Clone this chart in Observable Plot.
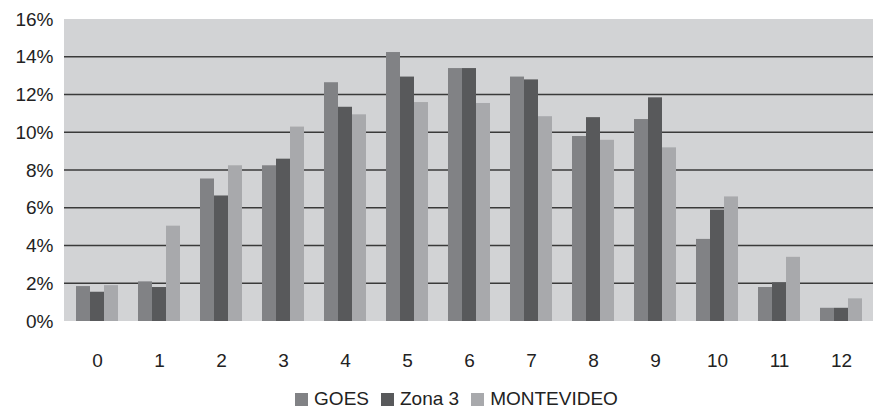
<!DOCTYPE html>
<html>
<head>
<meta charset="utf-8">
<script src="https://cdn.jsdelivr.net/npm/d3@7"></script>
<script src="https://cdn.jsdelivr.net/npm/@observablehq/plot@0.6"></script>
<style>
  html, body { margin: 0; padding: 0; background: #fff; }
  body { width: 878px; height: 409px; overflow: hidden; font-family: "Liberation Sans", Arial, sans-serif; }
  #chart svg { display: block; }
  #legend { display: flex; justify-content: center; align-items: center; height: 28px; padding-left: 35px; font-size: 19px; color: #222; }
  #legend .item { display: flex; align-items: center; margin: 0 6px; }
  #legend .sw { width: 13px; height: 13px; margin-right: 6px; display: inline-block; }
</style>
</head>
<body>
<div id="chart"></div>
<div id="legend"></div>
<script>
const categories = ["0","1","2","3","4","5","6","7","8","9","10","11","12"];
const series = ["GOES", "Zona 3", "MONTEVIDEO"];
const goes       = [1.85, 2.1, 7.55, 8.25, 12.65, 14.25, 13.4, 12.95, 9.8, 10.7, 4.35, 1.8, 0.7];
const zona3      = [1.55, 1.8, 6.65, 8.6, 11.35, 12.95, 13.4, 12.8, 10.8, 11.85, 5.9, 2.05, 0.7];
const montevideo = [1.9, 5.05, 8.25, 10.3, 10.95, 11.6, 11.55, 10.85, 9.6, 9.2, 6.6, 3.4, 1.2];
const yTicks = [0, 2, 4, 6, 8, 10, 12, 14, 16];
const gridTicks = [2, 4, 6, 8, 10, 12, 14];
const colors = ["#818285", "#58595b", "#a8a9ac"];

const seriesValues = [goes, zona3, montevideo];
const data = categories.flatMap((c, i) =>
  series.map((s, j) => ({cat: c, series: s, value: seriesValues[j][i]}))
);

const W = 878, H = 385, mL = 64, mR = 5, mT = 19, mB = 64;

const chart = Plot.plot({
  width: W,
  height: H,
  marginTop: mT,
  marginBottom: mB,
  marginLeft: mL,
  marginRight: mR,
  style: {fontFamily: "'Liberation Sans', Arial, sans-serif", fontSize: "19px", color: "#222", background: "#fff"},
  fx: {domain: categories, paddingInner: 0.325, paddingOuter: 0.14, label: null, axis: "bottom", tickSize: 0, tickPadding: 32},
  x: {domain: series, padding: 0, axis: null},
  y: {domain: [0, 16], ticks: yTicks, tickFormat: d => d + "%", tickSize: 0, tickPadding: 23, label: null},
  color: {domain: series, range: colors},
  marks: [
    Plot.barY(data, {fx: "cat", x: "series", y: "value", fill: "series"})
  ]
});
document.getElementById("chart").appendChild(chart);

// plot-area background and gridlines across the whole plot area, behind the bars
const yScale = chart.scale("y");
const svg = d3.select(chart);
const styleNode = chart.querySelector("style");
const bg = svg.insert("g", () => styleNode ? styleNode.nextSibling : chart.firstChild).attr("aria-label", "background");
bg.append("rect")
  .attr("x", mL).attr("width", W - mR - mL)
  .attr("y", yScale.apply(16)).attr("height", yScale.apply(0) - yScale.apply(16))
  .attr("fill", "#d2d3d5");
bg.selectAll("line").data(gridTicks).join("line")
  .attr("x1", mL).attr("x2", W - mR)
  .attr("y1", d => yScale.apply(d)).attr("y2", d => yScale.apply(d))
  .attr("stroke", "#3a3a3a").attr("stroke-width", 1.3);

const legend = d3.select("#legend");
series.forEach((s, i) => {
  const item = legend.append("div").attr("class", "item");
  item.append("span").attr("class", "sw").style("background", colors[i]);
  item.append("span").text(s);
});
</script>
</body>
</html>
